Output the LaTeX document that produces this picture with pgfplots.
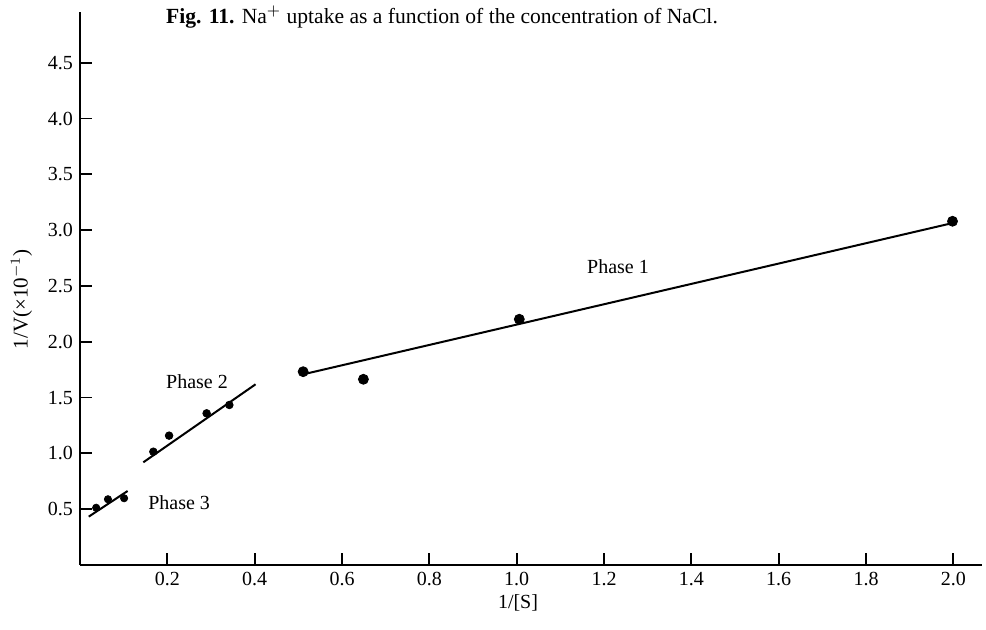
\documentclass[border=0pt]{standalone}
\usepackage{pgfplots}
\pgfplotsset{compat=1.18}
\usepackage{fontspec}
\setmainfont{Liberation Serif}

\begin{document}
\begin{tikzpicture}[font=\fontsize{10}{12}\selectfont]
\begin{axis}[
  x=218.35pt, y=55.8pt,
  xmin=0, xmax=2.065, ymin=0, ymax=4.955,
  axis x line=bottom, axis y line=left,
  axis line style={-, line width=0.9pt, black},
  tick align=inside,
  major tick length=6pt,
  tick style={line width=0.9pt, black},
  xtick={0.2,0.4,0.6,0.8,1.0,1.2,1.4,1.6,1.8,2.0},
  ytick={0.5,1.0,1.5,2.0,2.5,3.0,3.5,4.0,4.5},
  /pgf/number format/.cd, fixed, fixed zerofill, precision=1, assume math mode=true,
  /pgfplots/.cd,
  clip=false,
]
% Phase 3
\addplot[only marks, mark=*, mark size=1.8pt, black] coordinates {
  (0.037,0.513) (0.064,0.589) (0.101,0.598)
};
\addplot[black, line width=1pt, no marks] coordinates {(0.020,0.433) (0.109,0.663)};
% Phase 2
\addplot[only marks, mark=*, mark size=1.9pt, black] coordinates {
  (0.168,1.015) (0.204,1.159) (0.290,1.359) (0.342,1.434)
};
\addplot[black, line width=1pt, no marks] coordinates {(0.145,0.920) (0.402,1.619)};
% Phase 1
\addplot[only marks, mark=*, mark size=2.5pt, black] coordinates {
  (0.511,1.732) (0.649,1.664) (1.006,2.202) (1.998,3.080)
};
\addplot[black, line width=1pt, no marks] coordinates {(0.515,1.712) (1.996,3.062)};

\node[font=\fontsize{10}{12}\selectfont] at (axis cs:1.232,2.670) {Phase 1};
\node[font=\fontsize{10}{12}\selectfont] at (axis cs:0.268,1.640) {Phase 2};
\node[font=\fontsize{10}{12}\selectfont] at (axis cs:0.227,0.556) {Phase 3};

\node[rotate=90, font=\fontsize{10.5}{12}\selectfont] at (axis cs:-0.134,2.38) {1/V(×10$^{-1}$)};
\node[font=\fontsize{10}{12}\selectfont] at (axis cs:1.003,-0.341) {1/[S]};

\node[anchor=base, inner sep=0pt, font=\fontsize{10.8}{13}\selectfont] at (axis cs:0.829,4.855)
  {\textbf{Fig. 11.} Na$^{+}$ uptake as a function of the concentration of NaCl.};

\coordinate (bl) at (axis cs:-0.1832,-0.5824);
\coordinate (tr) at (axis cs:2.0747,5.0627);
\end{axis}
\pgfresetboundingbox
\useasboundingbox (bl) rectangle (tr);
\end{tikzpicture}
\end{document}
